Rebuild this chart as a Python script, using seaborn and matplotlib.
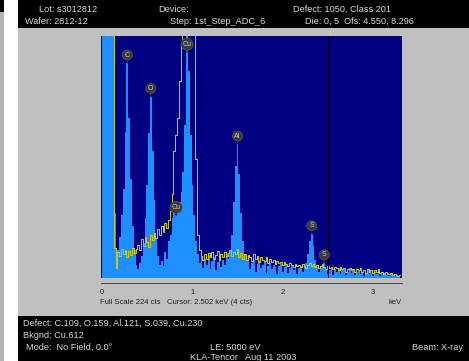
import numpy as np
import pandas as pd
import seaborn as sns
import matplotlib.pyplot as plt
from matplotlib.patches import Rectangle
from matplotlib.ticker import MultipleLocator

# spectrum channels, 20 eV each, 0.00 .. 3.30 keV
kev_step = 0.02
sample_cts = [
    300, 300, 300, 300, 300, 300, 230, 60, 18, 26,
    38, 58, 82, 135, 199, 148, 92, 48, 26, 12,
    8, 14, 20, 32, 56, 86, 134, 168, 118, 72,
    36, 20, 12, 16, 11, 24, 18, 34, 40, 56,
    64, 58, 66, 70, 80, 98, 142, 226, 192, 132,
    86, 58, 34, 22, 14, 20, 9, 18, 12, 21,
    8, 16, 19, 7, 15, 20, 10, 17, 12, 22,
    18, 26, 40, 70, 104, 124, 96, 60, 34, 22,
    16, 19, 8, 14, 17, 6, 13, 16, 9, 12,
    15, 5, 11, 14, 8, 12, 10, 4, 11, 13,
    6, 10, 12, 5, 9, 11, 7, 10, 4, 9,
    11, 6, 10, 14, 22, 34, 41, 30, 17, 10,
    6, 9, 12, 14, 8, 4, 7, 9, 3, 8,
    6, 9, 4, 7, 8, 3, 6, 8, 5, 7,
    3, 6, 7, 4, 6, 2, 5, 7, 4, 5,
    2, 6, 4, 5, 2, 4, 5, 3, 4, 2,
    4, 3, 2, 3, 2, 3,
]
bkgnd_cts = [
    300, 300, 300, 300, 300, 300, 300, 28, 9, 24,
    20, 27, 22, 26, 19, 25, 21, 28, 23, 27,
    31, 26, 36, 30, 38, 33, 29, 40, 35, 42,
    37, 45, 40, 48, 43, 51, 46, 54, 62, 78,
    118, 132, 148, 182, 216, 300, 300, 300, 300, 300,
    300, 300, 110, 40, 26, 20, 17, 22, 18, 23,
    19, 24, 18, 21, 25, 17, 22, 19, 24, 20,
    23, 26, 20, 24, 22, 27, 19, 23, 18, 22,
    17, 21, 19, 16, 22, 18, 20, 15, 19, 17,
    16, 19, 14, 18, 15, 17, 13, 16, 14, 15,
    12, 15, 13, 11, 14, 12, 10, 13, 11, 12,
    10, 13, 11, 9, 12, 14, 11, 13, 10, 12,
    9, 11, 13, 10, 8, 11, 9, 10, 8, 10,
    9, 7, 10, 8, 9, 6, 8, 9, 7, 8,
    6, 8, 7, 9, 6, 7, 5, 8, 6, 7,
    5, 7, 6, 8, 5, 6, 4, 6, 5, 4,
    5, 3, 4, 3, 2, 3,
]

line_names = ["C", "O", "Cu", "Cu", "Al", "S", "S"]
line_kev = [0.28, 0.54, 0.94, 0.82, 1.50, 2.32, 2.46]

full_scale = 224
cursor_kev = 2.502
cursor_cts = 4

header_left = ["Lot: s3012812", "Wafer: 2812-12"]
header_mid = ["Device:", "Step: 1st_Step_ADC_6"]
header_right = ["Defect: 1050, Class 201", "Die: 0, 5  Ofs: 4.550, 8.296"]
footer_lines = ["Defect: C.109, O.159, Al.121, S.039, Cu.230", "Bkgnd: Cu.612",
                "Mode:  No Field, 0.0\u00b0"]

df = pd.DataFrame({"kev": np.arange(len(sample_cts)) * kev_step,
                   "sample": sample_cts, "bkgnd": bkgnd_cts})

sns.set_style("white")
plt.rcParams["font.family"] = ["Liberation Sans", "DejaVu Sans"]

W, H = 469, 361
fig = plt.figure(figsize=(W / 100, H / 100), dpi=100)
fig.patch.set_facecolor("#c0c0c0")


def box(x0, y0, x1, y1, color):
    # rectangle in pixel coords, y from top
    fig.patches.append(Rectangle((x0 / W, 1 - y1 / H), (x1 - x0) / W, (y1 - y0) / H,
                                 transform=fig.transFigure, color=color, lw=0, zorder=0))


def txt(x, y, s, **kw):
    fig.text(x / W, 1 - y / H, s, va="center", **kw)


# window frame
box(0, 0, 18, H, "white")
box(0, 12, 4, H, "#b4b4b4")
box(0, 0, 4, 12, "black")
box(18, 0, W, 28, "black")
box(18, 316, W, H, "black")

light = "#d8d8d8"
txt(39, 9, header_left[0], color=light, fontsize=6.6)
txt(25, 21, header_left[1], color=light, fontsize=6.6)
txt(158, 9, header_mid[0], color=light, fontsize=6.6)
txt(170, 21, header_mid[1], color=light, fontsize=6.6)
txt(293, 9, header_right[0], color=light, fontsize=6.6)
txt(305, 21, header_right[1], color=light, fontsize=6.6)

txt(23, 323, footer_lines[0], color=light, fontsize=6.6)
txt(23, 335, footer_lines[1], color=light, fontsize=6.6)
txt(26, 347, footer_lines[2], color=light, fontsize=6.6)
txt(210, 347, "LE: 5000 eV", color=light, fontsize=6.6)
txt(463, 347, "Beam: X-ray", color=light, fontsize=6.6, ha="right")
txt(190, 358, "KLA-Tencor   Aug 11 2003", color=light, fontsize=6.6)

# spectrum panel
x0, x1, y0, y1 = 101, 402, 36, 278
ax = fig.add_axes([x0 / W, 1 - y1 / H, (x1 - x0) / W, (y1 - y0) / H])
ax.set_facecolor("#000080")
ax.fill_between(df["kev"], df["sample"], step="mid", color="#1e8fff", lw=0)
sns.lineplot(data=df, x="kev", y="bkgnd", drawstyle="steps-mid", color="#c8c81e",
             lw=0.75, ax=ax)
ax.axvline(cursor_kev, color="#000020", lw=0.8)
ax.set_xlim(-0.012, 3.32)
ax.set_ylim(0, full_scale)
ax.set_xticks([])
ax.set_yticks([])
ax.set_xlabel("")
ax.set_ylabel("")
for s in ax.spines.values():
    s.set_visible(False)

for name, e in zip(line_names, line_kev):
    i = int(round(e / kev_step))
    top = min(sample_cts[i], 209)
    ax.annotate(name, xy=(e, top), xytext=(0, 8), textcoords="offset pixels",
                ha="center", va="center", fontsize=5, color="#c8c8c8",
                bbox=dict(boxstyle="circle,pad=0.22", fc="#3a3a3a", ec="#5a5a5a", lw=0.5),
                arrowprops=dict(arrowstyle="-", color="#303030", lw=0.8,
                                shrinkA=0, shrinkB=0),
                annotation_clip=False)

# energy scale
ay = 283
ax2 = fig.add_axes([x0 / W, 1 - ay / H, (x1 - x0) / W, 0.0001])
ax2.set_xlim(-0.012, 3.32)
ax2.set_facecolor("none")
for k in ["top", "left", "right"]:
    ax2.spines[k].set_visible(False)
ax2.spines["bottom"].set_color("#404040")
ax2.spines["bottom"].set_linewidth(0.7)
ax2.set_yticks([])
ax2.xaxis.set_major_locator(MultipleLocator(1))
ax2.xaxis.set_minor_locator(MultipleLocator(0.1))
ax2.tick_params(axis="x", which="major", direction="out", length=3, width=0.7,
                color="#404040", labelsize=5.5, pad=1, labelcolor="#202020")
ax2.tick_params(axis="x", which="minor", direction="out", length=1.6, width=0.6,
                color="#404040")

txt(100, 303, f"Full Scale {full_scale} cts   Cursor: {cursor_kev:.3f} keV ({cursor_cts} cts)",
    color="#202020", fontsize=5.5)
txt(402, 303, "keV", color="#202020", fontsize=5.5, ha="right")

fig.savefig("out.png", dpi=100, facecolor=fig.get_facecolor())
